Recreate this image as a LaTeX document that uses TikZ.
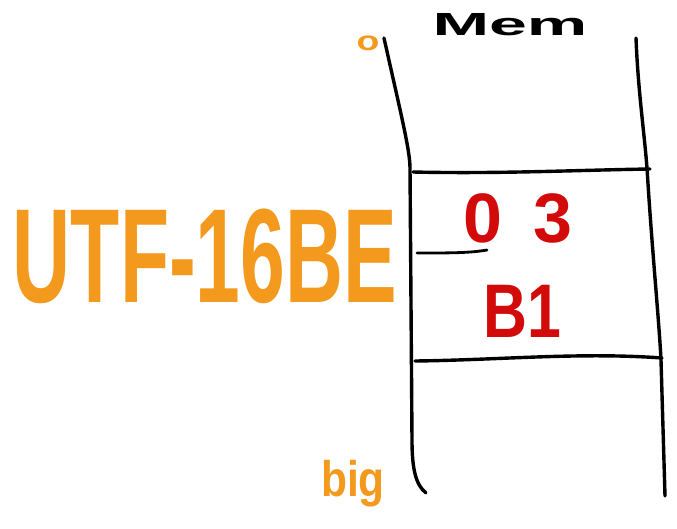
\documentclass[tikz,border=0pt]{standalone}
\usepackage{fontspec}
\setmainfont{Liberation Sans}
\definecolor{sketchorange}{HTML}{F39A1E}
\definecolor{sketchred}{HTML}{D20A0A}
\begin{document}
\begin{tikzpicture}[x=1pt,y=-1pt,
  ink/.style={line width=3.4pt,line cap=round,line join=round,black},
  thin ink/.style={line width=2.8pt,line cap=round,black},
  lbl/.style={inner sep=0pt,anchor=center,font=\bfseries}]
\useasboundingbox (0,0) rectangle (677,528);
% memory column sides
\coordinate (l0) at (384,38);
\coordinate (l1) at (410,168);
\coordinate (l3) at (426,493);
\coordinate (r0) at (636,38);
\coordinate (r1) at (647,168);
\coordinate (r2) at (661,360);
\coordinate (r3) at (665,496);
\draw[ink] (l0) .. controls (400,110) and (410,150) .. (l1) -- (412,440) .. controls (412,470) and (416,485) .. (l3);
\draw[ink] (r0) .. controls (638,90) and (644,130) .. (r1) .. controls (652,250) and (659,320) .. (r2) -- (r3);
% cell borders
\coordinate (t0) at (413,172);
\coordinate (t1) at (650,169);
\coordinate (b0) at (415,361);
\coordinate (b1) at (662,358);
\draw[ink] (t0) .. controls (500,174) and (580,170) .. (t1);
\draw[ink] (b0) .. controls (500,360) and (580,352) .. (b1);
\coordinate (d0) at (417,253);
\coordinate (d1) at (487,250);
\draw[thin ink] (d0) .. controls (450,253) and (470,253) .. (d1);
% texts
\node[lbl] (mem) at (510,25) {\fontsize{40}{40}\selectfont\scalebox{1.7}[0.8]{Mem}};
\node[lbl,text=sketchorange] (zero) at (368,43) {\fontsize{34}{34}\selectfont\scalebox{1.1}[0.8]{o}};
\node[lbl,text=sketchorange] (utf) at (205,256) {\fontsize{134}{134}\selectfont\scalebox{0.6}[1]{UTF-16BE}};
\node[lbl,text=sketchred] (b03) at (518,218) {\fontsize{70}{70}\selectfont 0\hspace{0.45em}3};
\node[lbl,text=sketchred] (bB1) at (522,311) {\fontsize{76}{76}\selectfont\scalebox{0.8}[1]{B1}};
\node[lbl,text=sketchorange] (big) at (353,484) {\fontsize{50}{50}\selectfont\scalebox{0.85}[1]{big}};
\end{tikzpicture}
\end{document}
